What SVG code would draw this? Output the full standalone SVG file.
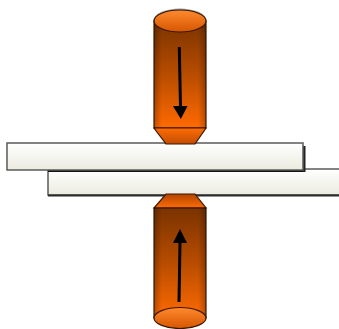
<svg xmlns="http://www.w3.org/2000/svg" width="339" height="329" viewBox="0 0 339 329">
  <defs>
    <linearGradient id="bodyGrad" x1="0" y1="0" x2="0" y2="1">
      <stop offset="0" stop-color="#7a3300"/>
      <stop offset="0.5" stop-color="#b84c00"/>
      <stop offset="1" stop-color="#ff6a00"/>
    </linearGradient>
    <linearGradient id="sideShade" x1="0" y1="0" x2="1" y2="0">
      <stop offset="0" stop-color="#000" stop-opacity="0.25"/>
      <stop offset="0.15" stop-color="#000" stop-opacity="0"/>
      <stop offset="0.85" stop-color="#000" stop-opacity="0"/>
      <stop offset="1" stop-color="#000" stop-opacity="0.25"/>
    </linearGradient>
    <linearGradient id="capGrad" x1="0" y1="0" x2="0" y2="1">
      <stop offset="0" stop-color="#ff8a30"/>
      <stop offset="1" stop-color="#d65600"/>
    </linearGradient>
    <linearGradient id="tipGradDown" x1="0" y1="0" x2="0" y2="1">
      <stop offset="0" stop-color="#ff6c05"/>
      <stop offset="1" stop-color="#c24c00"/>
    </linearGradient>
    <linearGradient id="tipGradUp" x1="0" y1="0" x2="0" y2="1">
      <stop offset="0" stop-color="#b04400"/>
      <stop offset="1" stop-color="#ff6c05"/>
    </linearGradient>
    <linearGradient id="plateGrad" x1="0" y1="0" x2="0" y2="1">
      <stop offset="0" stop-color="#ffffff"/>
      <stop offset="1" stop-color="#ebebe0"/>
    </linearGradient>
  </defs>
  <style>
    .outline { stroke: #3a1800; stroke-width: 1.2; }
    .plate { fill: url(#plateGrad); stroke: #5a5a5a; stroke-width: 1.5; }
    .shaft { stroke: #000; stroke-width: 3; fill: none; }
    .head { fill: #000; }
  </style>

  <!-- lower sheet -->
  <g id="plate-bottom">
    <rect class="plate" x="48" y="169" width="295" height="26"/>
    <line x1="48" y1="195.5" x2="339" y2="195.5" stroke="#2a2a2a" stroke-width="2"/>
  </g>

  <!-- upper sheet; its shadow falls on the lower sheet and to the right -->
  <g id="plate-top">
    <rect x="48" y="168" width="257" height="4" fill="#111"/>
    <rect x="303" y="146" width="2.5" height="26" fill="#222"/>
    <rect class="plate" x="7" y="143" width="296" height="27"/>
  </g>

  <!-- upper electrode -->
  <g id="electrode-top">
    <rect class="outline" x="154" y="21" width="52" height="107" fill="url(#bodyGrad)"/>
    <rect x="154" y="21" width="52" height="107" fill="url(#sideShade)"/>
    <ellipse cx="180" cy="20" rx="26" ry="11.5" fill="#555" opacity="0.6"/>
    <ellipse class="outline" cx="180" cy="21" rx="26" ry="11" fill="url(#capGrad)"/>
    <polygon class="outline" points="154,128 206,128 195,144 166,144" fill="url(#tipGradDown)"/>
  </g>

  <!-- lower electrode -->
  <g id="electrode-bottom">
    <polygon class="outline" points="166,194 195,194 206,208 154,208" fill="url(#tipGradUp)"/>
    <rect class="outline" x="154" y="208" width="52" height="110" fill="url(#bodyGrad)"/>
    <rect x="154" y="208" width="52" height="110" fill="url(#sideShade)"/>
    <ellipse class="outline" cx="180" cy="318" rx="26" ry="10.5" fill="url(#capGrad)"/>
  </g>

  <!-- force arrows -->
  <g id="arrows">
    <line class="shaft" x1="179.3" y1="47" x2="180.5" y2="107"/>
    <polygon class="head" points="173,106 187.5,106 180.8,119"/>
    <line class="shaft" x1="180" y1="242" x2="179" y2="302"/>
    <polygon class="head" points="180,229 173,243 187,243"/>
  </g>
</svg>
